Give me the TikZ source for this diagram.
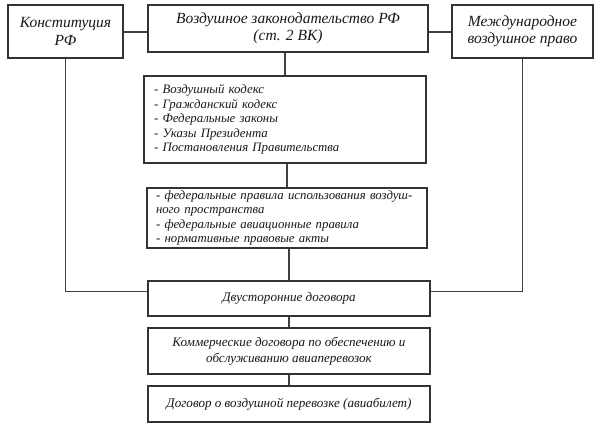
\documentclass[tikz,border=0pt]{standalone}
\usepackage{fontspec}
\setmainfont{Liberation Serif}
\begin{document}
\begin{tikzpicture}[x=1pt,y=-1pt,
  box/.style={draw=black!80,line width=1.2pt,fill=white,inner sep=0pt,align=center,text=black!90,font=\itshape\fontsize{15.5}{17.5}\selectfont},
  lbox/.style={box,align=left,text width=#1,font=\itshape\fontsize{12.8}{14.6}\selectfont},
  sbox/.style={box,font=\itshape\fontsize{13.1}{16}\selectfont},
  conn/.style={draw=black!75,line width=1.2pt}]
\useasboundingbox (0,0) rectangle (598,430);
\node[box,minimum width=115pt,minimum height=53pt] (b1) at (65.5,31.5) {Конституция\\РФ};
\node[box,minimum width=280pt,minimum height=47pt] (b2) at (288,28.5) {Воздушное законодательство РФ\\(ст. 2 ВК)};
\node[box,minimum width=141pt,minimum height=53pt] (b3) at (522.5,31.5) {Международное\\воздушное право};
\node[lbox=262pt,minimum width=282pt,minimum height=87pt] (l1) at (285,119.5) {- Воздушный кодекс\\- Гражданский кодекс\\- Федеральные законы\\- Указы Президента\\- Постановления Правительства};
\node[lbox=262pt,minimum width=280pt,minimum height=60pt] (l2) at (287,218) {- федеральные правила использования воздуш-\\ного пространства\\- федеральные авиационные правила\\- нормативные правовые акты};
\node[sbox,minimum width=282pt,minimum height=35pt] (b5) at (289,298.5) {Двусторонние договора};
\node[sbox,minimum width=282pt,minimum height=46pt] (b6) at (289,351) {Коммерческие договора по обеспечению и\\обслуживанию авиаперевозок};
\node[sbox,minimum width=282pt,minimum height=36pt] (b7) at (289,404) {Договор о воздушной перевозке (авиабилет)};
\coordinate (p1) at ([yshift=-3.5pt]b2.west);
\coordinate (p3) at ([yshift=-3.5pt]b2.east);
\coordinate (q1) at ([yshift=-11pt]b5.north west);
\coordinate (q3) at ([yshift=-11pt]b5.north east);
\draw[conn] (p1) -- (p1 -| b1.east);
\draw[conn] (p3) -- (p3 -| b3.west);
\draw[conn] (b1.south) |- (q1);
\draw[conn] (b3.south) |- (q3);
\draw[conn] (b2.south -| l1.north) -- (l1.north);
\draw[conn] (l1.south -| l2.north) -- (l2.north);
\draw[conn] (l2.south -| b5.north) -- (b5.north);
\draw[conn] (b5.south) -- (b6.north);
\draw[conn] (b6.south) -- (b7.north);
\end{tikzpicture}
\end{document}
